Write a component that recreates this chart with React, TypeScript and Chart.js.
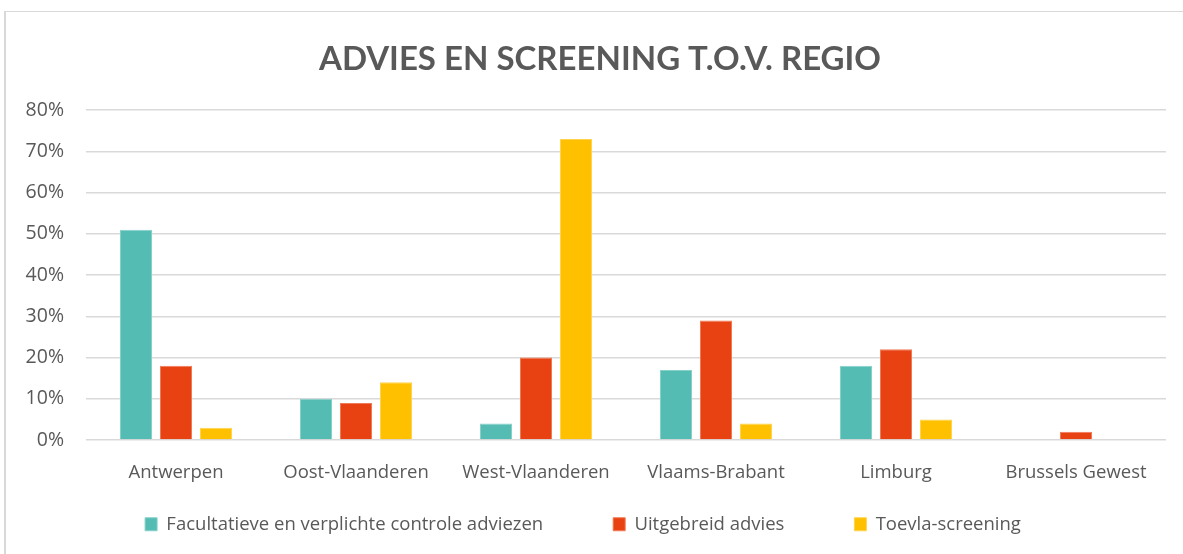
import React, { useEffect, useRef } from "react";
import { Chart, registerables } from "chart.js";

Chart.register(...registerables);

const categories = ["Antwerpen", "Oost-Vlaanderen", "West-Vlaanderen", "Vlaams-Brabant", "Limburg", "Brussels Gewest"];
const facultatieve = [51, 10, 4, 17, 18, 0];
const uitgebreid = [18, 9, 20, 29, 22, 2];
const toevla = [3, 14, 73, 4, 5, 0];
const seriesNames = ["Facultatieve en verplichte controle adviezen", "Uitgebreid advies", "Toevla-screening"];
const yTicks = [0, 10, 20, 30, 40, 50, 60, 70, 80];

const TITLE_FONT = "Lato, 'Open Sans', sans-serif";
const FONT = "'Open Sans', Lato, sans-serif";
const TEXT = "#595959";

const shiftPlugin = {
  id: "shiftBoxes",
  afterLayout(chart: any) {
    if (chart.titleBlock) {
      chart.titleBlock.left += 34;
    }
    if (chart.legend) {
      chart.legend.top = 445;
      chart.legend.bottom = 547;
      chart.legend.height = 102;
    }
  },
};

export default function App() {
  const ref = useRef<HTMLCanvasElement | null>(null);
  useEffect(() => {
    if (!ref.current) return;
    const chart = new Chart(ref.current, {
      type: "bar",
      data: {
        labels: categories,
        datasets: [
          { label: seriesNames[0], data: facultatieve, backgroundColor: "#55BCB4", borderColor: "#86d0ca", borderWidth: 1 },
          { label: seriesNames[1], data: uitgebreid, backgroundColor: "#E84212", borderColor: "#f07a55", borderWidth: 1 },
          { label: seriesNames[2], data: toevla, backgroundColor: "#FFC000", borderColor: "#ffd34d", borderWidth: 1 },
        ],
      },
      plugins: [shiftPlugin],
      options: {
        responsive: false,
        animation: false,
        layout: { padding: { left: 0, right: 17, top: 0, bottom: 12 } },
        datasets: { bar: { categoryPercentage: 120 / 180, barPercentage: 0.8 } },
        plugins: {
          tooltip: { enabled: false },
          title: {
            display: true,
            text: "ADVIES EN SCREENING T.O.V. REGIO",
            color: TEXT,
            font: { family: TITLE_FONT, size: 33, weight: "bold" },
            padding: { top: 40, bottom: 30.4 },
          },
          legend: {
            position: "bottom",
            maxHeight: 40,
            labels: {
              color: TEXT,
              font: { family: FONT, size: 18.5 },
              boxWidth: 12,
              boxHeight: 13,
              padding: 70,
            },
          },
        },
        scales: {
          x: {
            grid: { display: false },
            border: { display: false },
            ticks: { color: TEXT, font: { family: FONT, size: 18.5 }, padding: 14, maxRotation: 0 },
            afterFit: (s: any) => { s.height = 62; },
          },
          y: {
            min: 0,
            max: 80,
            afterBuildTicks: (s: any) => { s.ticks = yTicks.map((v) => ({ value: v })); },
            grid: { color: "#d9d9d9", lineWidth: 1.5, drawTicks: false },
            border: { display: false },
            ticks: {
              color: TEXT,
              font: { family: FONT, size: 19.5 },
              padding: 22,
              callback: (v: any) => `${v}%`,
            },
            afterFit: (s: any) => { s.width = 86; },
          },
        },
      },
    });
    return () => chart.destroy();
  }, []);
  return (
    <div style={{ position: "fixed", left: 0, top: 0, width: 1183, height: 554, background: "#fff", overflow: "hidden" }}>
      <div style={{ position: "absolute", left: 4, top: 11, width: 1300, height: 700, borderLeft: "2px solid #d9d9d9", borderTop: "1px solid #d9d9d9" }} />
      <canvas ref={ref} width={1183} height={554} style={{ position: "absolute", left: 0, top: 0 }} />
    </div>
  );
}
